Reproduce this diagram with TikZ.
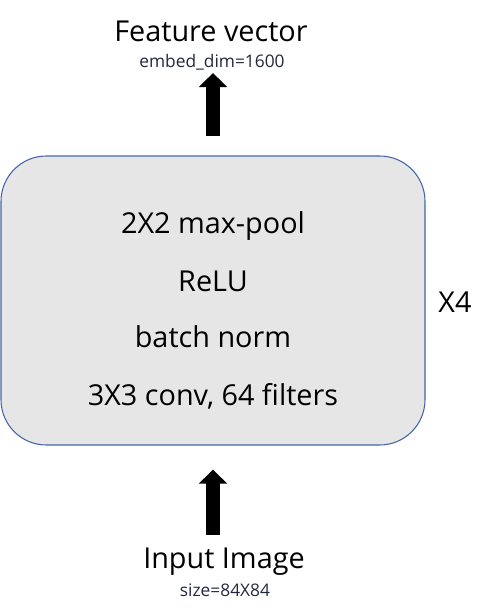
\documentclass[tikz,border=0pt]{standalone}
\usepackage{fontspec}
\setmainfont{Open Sans}
\usetikzlibrary{arrows.meta}
\usetikzlibrary{positioning}
\definecolor{boxfill}{RGB}{230,230,230}
\definecolor{boxline}{RGB}{68,100,170}
\definecolor{smalltxt}{RGB}{35,40,60}
\tikzset{
  bigtxt/.style={font=\fontsize{21.6pt}{24pt}\selectfont, inner sep=0pt, anchor=base},
  subtxt/.style={font=\fontsize{13pt}{15pt}\selectfont, text=smalltxt, inner sep=0pt, anchor=base},
  block/.style={fill=boxfill, draw=boxline, line width=0.8pt, rounded corners=34pt,
    minimum width=318pt, minimum height=216.75pt, inner sep=0pt},
  fatarrow/.style={line width=10.5pt, -{Triangle[length=10.5pt, width=20.5pt]}},
}
\begin{document}
\begin{tikzpicture}[x=0.75pt, y=-0.75pt]
          \useasboundingbox (0,0) rectangle (493,612);

          % the repeated block
          \node[block] (layer) at (213,300.5) {};
          \coordinate (boxtop) at ([yshift=14.25pt]layer.north);
          \coordinate (boxbot) at ([yshift=-18pt]layer.south);

          \node[bigtxt] (pool) at (213,233) {2X2 max-pool};
          \node[bigtxt] (relu) at (213,291) {ReLU};
          \node[bigtxt] (bn) at (213,347) {batch norm};
          \node[bigtxt] (conv) at (213,405) {3X3 conv, 64 filters};
          \node[bigtxt] (rep) at (455,312) {X4};

          % output on top
          \node[bigtxt] (feat) at (211,41) {Feature vector};
          \node[subtxt] (embed) at (212,67) {embed\_dim=1600};
          \coordinate (feattip) at (213,73);
          \draw[fatarrow] (boxtop) -- (feattip);

          % input at the bottom
          \node[bigtxt] (inp) at (224,568) {Input Image};
          \node[subtxt] (size) at (225,596) {size=84X84};
          \coordinate (inpbot) at (213,535);
          \draw[fatarrow] (inpbot) -- (boxbot);
\end{tikzpicture}
\end{document}
